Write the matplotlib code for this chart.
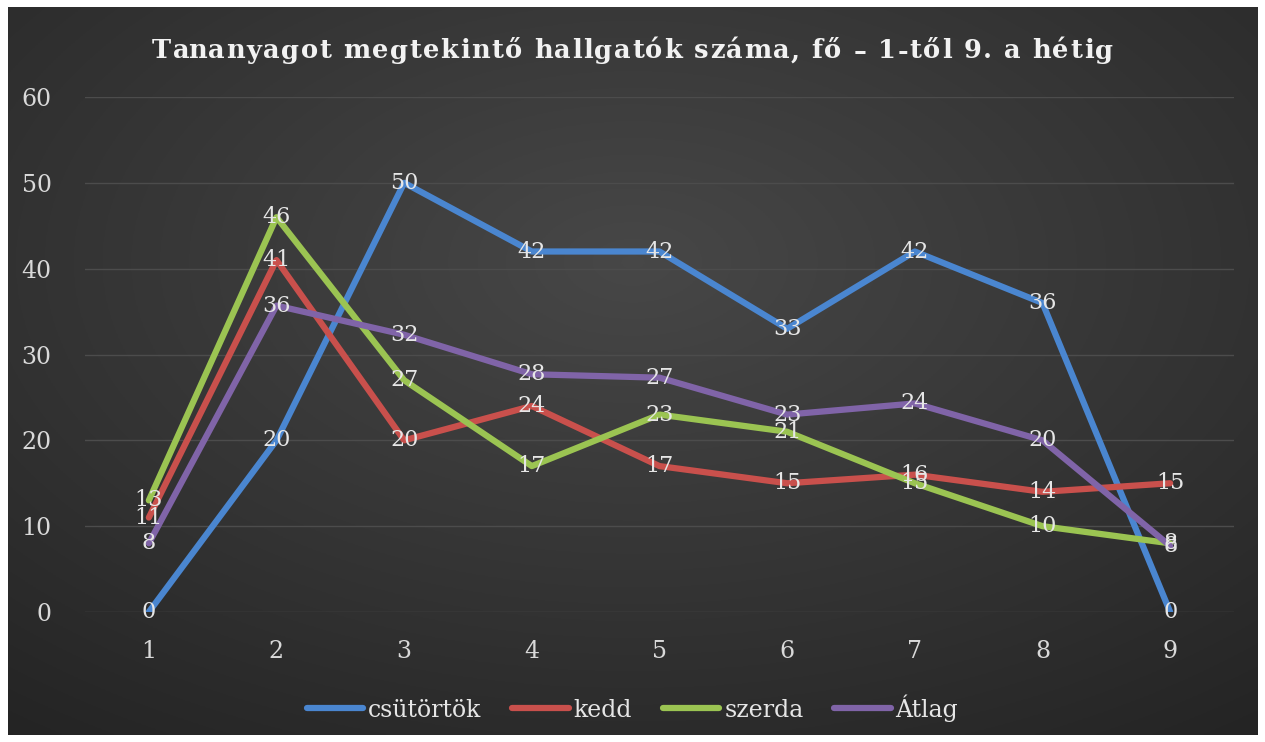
import numpy as np
import matplotlib
matplotlib.use("Agg")
import matplotlib.pyplot as plt
from matplotlib.lines import Line2D

weeks = [1, 2, 3, 4, 5, 6, 7, 8, 9]
csutortok = [0, 20, 50, 42, 42, 33, 42, 36, 0]
kedd = [11, 41, 20, 24, 17, 15, 16, 14, 15]
szerda = [13, 46, 27, 17, 23, 21, 15, 10, 8]
atlag = [8, 35.7, 32.3, 27.7, 27.3, 23, 24.3, 20, 7.7]
series_names = ["csütörtök", "kedd", "szerda", "Átlag"]
colors = ["#4a86d0", "#c9504c", "#9bc452", "#8064a8"]
title = "Tananyagot megtekintő hallgatók száma, fő – 1-től 9. a hétig"

W, H = 1265, 742
fig = plt.figure(figsize=(W / 100, H / 100), dpi=100, facecolor="white")

# dark gradient background
bg = fig.add_axes([8 / W, 7 / H, 1250 / W, 728 / H])
yy, xx = np.mgrid[-1:1:300j, -1:1:500j]
r = np.sqrt(xx ** 2 + (yy + 0.3) ** 2) / np.sqrt(2)
img = np.clip(0.28 - 0.12 * r, 0.14, 0.3)
bg.imshow(np.dstack([img, img, img]), aspect="auto", extent=[0, 1, 0, 1])
bg.set_axis_off()

ax = fig.add_axes([85 / W, 1 - 612 / H, (1234 - 85) / W, (612 - 97) / H])
ax.patch.set_alpha(0)
ax.set_xlim(0.5, 9.5)
ax.set_ylim(0, 60)
ax.set_yticks(range(0, 61, 10))
ax.set_xticks(weeks)
ax.grid(axis="y", color="#4c4c4c", linewidth=1)
ax.set_axisbelow(True)
for s in ax.spines.values():
    s.set_visible(False)
ax.tick_params(length=0, colors="#d9d9d9", labelsize=17)
ax.tick_params(axis="x", pad=20)
ax.tick_params(axis="y", pad=24)
for lab in ax.get_xticklabels() + ax.get_yticklabels():
    lab.set_fontfamily("DejaVu Serif")

data = [csutortok, kedd, szerda, atlag]
for name, vals, c in zip(series_names, data, colors):
    ax.plot(weeks, vals, color=c, linewidth=4.5, solid_capstyle="round", label=name, zorder=3)
for name, vals, c in zip(series_names, data, colors):
    for x, v in zip(weeks, vals):
        ax.text(x, v, f"{v:.0f}", ha="center", va="center", color="#e6e6e6",
                fontsize=16, fontfamily="DejaVu Serif", zorder=5)

# title with letter spacing, spanning ~152..1113 px
renderer = fig.canvas.get_renderer()
tkw = dict(color="#f2f2f2", fontsize=18.5, fontweight="bold", fontfamily="DejaVu Serif",
           va="center", ha="left")
probe = fig.text(0, 0, title, **tkw)
w_full = probe.get_window_extent(renderer).width
probe.remove()
target_left, target_right = 152, 1113
n = len(title)
track = (target_right - target_left - w_full) / (n - 1)
ty = 1 - 51 / H
for i, ch in enumerate(title):
    if i == 0:
        pre_w = 0
    else:
        p = fig.text(0, 0, title[:i] + "|", **tkw)
        q = fig.text(0, 0, "|", **tkw)
        pre_w = p.get_window_extent(renderer).width - q.get_window_extent(renderer).width
        p.remove(); q.remove()
    fig.text((target_left + pre_w + i * track) / W, ty, ch, **tkw)

handles = [Line2D([0], [0], color=c, linewidth=4.5, solid_capstyle="round") for c in colors]
leg = fig.legend(handles, series_names, loc="center", bbox_to_anchor=(0.5, 1 - 708 / H),
                 ncol=4, frameon=False, handlelength=2.4, handletextpad=0.2,
                 columnspacing=1.3, prop={"family": "DejaVu Serif", "size": 17})
for t in leg.get_texts():
    t.set_color("#e6e6e6")

fig.savefig("out.png", dpi=100, facecolor="white")
